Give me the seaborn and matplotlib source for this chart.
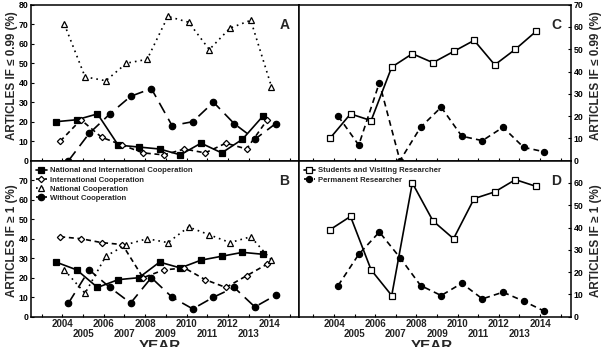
import numpy as np
import pandas as pd
import matplotlib
matplotlib.use("Agg")
import matplotlib.pyplot as plt
import seaborn as sns

years = [2004, 2005, 2006, 2007, 2008, 2009, 2010, 2011, 2012, 2013, 2014]

a_nic = [20, 21, 24, 8, 7, 6, 3, 9, 4, 11, 23]
a_ic = [10, 21, 12, 8, 4, 3, 6, 4, 9, 6, 21]
a_nc = [70, 43, 41, 50, 52, 74, 71, 57, 68, 72, 38]
a_wc = [0, 14, 24, 33, 37, 18, 20, 30, 19, 11, 19]

b_nic = [28, 24, 15, 19, 20, 28, 25, 29, 31, 33, 32]
b_ic = [41, 40, 38, 37, 20, 24, 25, 19, 15, 21, 27]
b_nc = [24, 12, 31, 37, 40, 38, 46, 42, 38, 41, 29]
b_wc = [7, 24, 15, 7, 20, 10, 4, 10, 15, 5, 11]

c_svr = [10, 21, 18, 42, 48, 44, 49, 54, 43, 50, 58]
c_pr = [20, 7, 35, 0, 15, 24, 11, 9, 15, 6, 4]
d_svr = [39, 45, 21, 9.5, 60, 43, 35, 53, 56, 61.5, 58.5]
d_pr = [14, 28, 38, 26.5, 14, 9.5, 15, 8, 11, 7, 2.5]

coop_labels = ["National and International Cooperation", "International Cooperation",
               "National Cooperation", "Without Cooperation"]
res_labels = ["Students and Visiting Researcher", "Permanent Researcher"]
tick_years = list(range(2003, 2016))

sns.set_style("white")
plt.rcParams['font.family'] = ['Liberation Sans', 'DejaVu Sans']
plt.rcParams['font.weight'] = 'bold'

W, H = 606, 347
fig = plt.figure(figsize=(W / 100, H / 100), dpi=100)

def rect(l, r, t, b):
    return [l / W, 1 - b / H, (r - l) / W, (b - t) / H]

axA = fig.add_axes(rect(31, 299, 4.7, 160.7))
axB = fig.add_axes(rect(31, 299, 160.7, 316.7))
axC = fig.add_axes(rect(299, 571, 4.7, 160.7))
axD = fig.add_axes(rect(299, 571, 160.7, 316.7))

yrs = np.array(years, dtype=float)

coop_styles = [
    dict(marker='s', linestyle='-', mfc='black', ms=4.6, off=-0.3),
    dict(marker='D', linestyle=(0, (3.0, 2.2)), mfc='white', ms=3.2, off=-0.1),
    dict(marker='^', linestyle=(0, (1.0, 2.4)), mfc='white', ms=4.2, off=0.1),
    dict(marker='o', linestyle=(0, (7, 4)), mfc='black', ms=4.6, off=0.3),
]
res_styles = [
    dict(marker='s', linestyle='-', mfc='white', ms=4.2, off=-0.2),
    dict(marker='o', linestyle=(0, (3.5, 2.5)), mfc='black', ms=4.4, off=0.2),
]

def draw(ax, series, styles, labels):
    for vals, st, lab in zip(series, styles, labels):
        df = pd.DataFrame({"x": yrs + st['off'], "y": vals})
        sns.lineplot(data=df, x="x", y="y", ax=ax, color='black', linewidth=1.2,
                     linestyle=st['linestyle'], marker=st['marker'],
                     markerfacecolor=st['mfc'], markeredgecolor='black',
                     markeredgewidth=0.9, markersize=st['ms'], label=lab, legend=False)

draw(axA, [a_nic, a_ic, a_nc, a_wc], coop_styles, coop_labels)
draw(axB, [b_nic, b_ic, b_nc, b_wc], coop_styles, coop_labels)
draw(axC, [c_svr, c_pr], res_styles, res_labels)
draw(axD, [d_svr, d_pr], res_styles, res_labels)

xt_labels = []
for y in tick_years:
    if y in (2003, 2015):
        xt_labels.append("")
    elif (y - 2004) % 2 == 0:
        xt_labels.append(str(y))
    else:
        xt_labels.append("\n" + str(y))

for ax in (axA, axB):
    ax.set_xlim(2002.49, 2015.43)
for ax in (axC, axD):
    ax.set_xlim(2002.3, 2015.5)

axA.set_ylim(0, 80)
axB.set_ylim(0, 80)
axC.set_ylim(0, 70)
axD.set_ylim(0, 70)

for ax in (axA, axB, axC, axD):
    ax.set_xticks(tick_years)
    ax.set_xlabel("")
    ax.set_ylabel("")
    for s in ax.spines.values():
        s.set_color('black')
        s.set_linewidth(1.1)
    ax.tick_params(direction='in', length=2.5, width=0.8, colors='black',
                   labelsize=6.3, pad=2)

axA.set_xticklabels([])
axC.set_xticklabels([])
for ax in (axB, axD):
    ax.set_xticklabels(xt_labels, fontsize=7, fontweight='bold', color='#222222')
    for t in ax.get_xticklabels():
        t.set_linespacing(0.95)

axA.set_yticks(range(0, 81, 10))
axB.set_yticks(range(0, 71, 10))
axC.set_yticks(range(0, 71, 10))
axD.set_yticks(range(0, 61, 10))
for ax in (axA, axB):
    ax.tick_params(axis='y', left=True, labelleft=True, right=False)
for ax in (axC, axD):
    ax.yaxis.tick_right()
    ax.tick_params(axis='y', right=True, labelright=True, left=False, labelleft=False)
for ax in (axA, axB, axC, axD):
    ax.tick_params(axis='x', bottom=True, top=False)
    for t in ax.get_yticklabels():
        t.set_fontweight('bold')

lab_kw = dict(fontsize=8.4, fontweight='bold', rotation=90, va='center', ha='center')
fig.text(12 / W, 1 - 76 / H, "ARTICLES IF ≤ 0.99 (%)", **lab_kw)
fig.text(12 / W, 1 - 241 / H, "ARTICLES IF ≥ 1 (%)", **lab_kw)
fig.text(596 / W, 1 - 76 / H, "ARTICLES IF ≤ 0.99 (%)", **lab_kw)
fig.text(596 / W, 1 - 241 / H, "ARTICLES IF ≥ 1 (%)", **lab_kw)

for ax, letter in ((axA, "A"), (axB, "B"), (axC, "C"), (axD, "D")):
    ax.text(0.945, 0.87, letter, transform=ax.transAxes, fontsize=10,
            fontweight='bold', ha='center', va='center')

fig.text(160 / W, 1 - 339.5 / H, "YEAR", fontsize=11, fontweight='bold', ha='center', va='top')
fig.text(432 / W, 1 - 339.5 / H, "YEAR", fontsize=11, fontweight='bold', ha='center', va='top')

hA, lA = axA.get_legend_handles_labels()
axB.legend(hA, lA, loc='upper left', bbox_to_anchor=(0.0, 0.99), frameon=False,
           handlelength=1.4, handletextpad=0.4, labelspacing=0.22,
           borderaxespad=0.2, prop={'weight': 'bold', 'size': 5.6})
hC, lC = axC.get_legend_handles_labels()
axD.legend(hC, lC, loc='upper left', bbox_to_anchor=(0.0, 0.99), frameon=False,
           handlelength=1.4, handletextpad=0.4, labelspacing=0.22,
           borderaxespad=0.2, prop={'weight': 'bold', 'size': 5.6})

fig.savefig("out.png", dpi=100)
